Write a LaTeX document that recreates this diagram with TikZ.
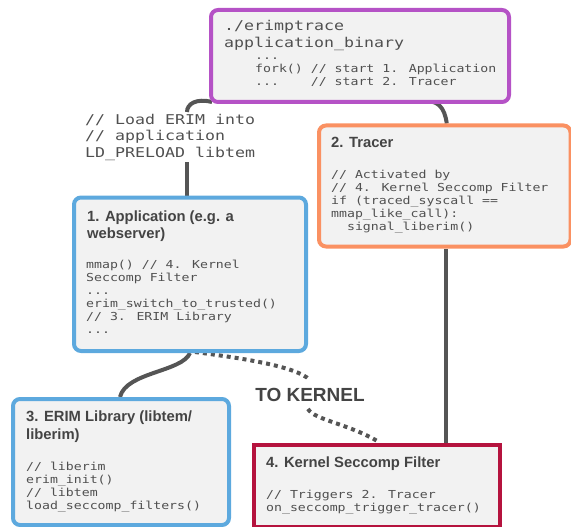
\documentclass[tikz,border=0pt]{standalone}
\usepackage{fontspec}
\setmainfont{Liberation Sans}
\newfontfamily\codefont{DejaVu Sans Mono}[FakeStretch=1.2]
\newfontfamily\bigcodefont{DejaVu Sans Mono}[FakeStretch=1.23]
\usetikzlibrary{calc,backgrounds}
\definecolor{boxfill}{HTML}{F2F2F2}
\definecolor{cpurple}{HTML}{B552C6}
\definecolor{corange}{HTML}{FA9162}
\definecolor{cblue}{HTML}{5DA9DE}
\definecolor{ccrimson}{HTML}{B5133E}
\definecolor{codegray}{HTML}{505050}
\definecolor{titlegray}{HTML}{444444}
\definecolor{conngray}{HTML}{555555}
\tikzset{
  roundbox/.style={draw=#1, fill=boxfill, line width=4pt, rounded corners=7pt, inner sep=0pt, anchor=north west},
  squarebox/.style={draw=#1, fill=boxfill, line width=4pt, inner sep=0pt, anchor=north west},
  code/.style={font=\codefont\fontsize{11}{13}\selectfont, text=codegray, align=left, inner sep=0pt, anchor=base west},
  bigcode/.style={font=\bigcodefont\fontsize{13.5}{17}\selectfont, text=codegray, align=left, inner sep=0pt, anchor=base west},
  ldcode/.style={font=\bigcodefont\fontsize{13.5}{16.5}\selectfont, text=codegray, align=left, inner sep=0pt, anchor=base west},
  title/.style={font=\bfseries\fontsize{14.8}{17.5}\selectfont, text=titlegray, align=left, inner sep=0pt, anchor=base west},
  conn/.style={draw=conngray, line width=4pt},
  dotconn/.style={draw=conngray, line width=4pt, dash pattern=on 4pt off 4pt},
}
\begin{document}
\begin{tikzpicture}[x=1pt,y=-1pt]
\useasboundingbox (0,0) rectangle (571,527);

% boxes
\node[roundbox=cpurple, minimum width=298pt, minimum height=92pt] (top) at (209,8) {};
\node[roundbox=corange, minimum width=251.5pt, minimum height=121pt] (tracer) at (317,123.5) {};
\node[roundbox=cblue, minimum width=232pt, minimum height=153.5pt] (app) at (72,195.5) {};
\node[roundbox=cblue, minimum width=216pt, minimum height=126pt] (erim) at (11,397) {};
\node[squarebox=ccrimson, minimum width=246.5pt, minimum height=82pt] (kernel) at (251.5,442.5) {};

% label between top and app (anchor = baseline of last line)
\node[ldcode] (ld) at (85,157.5) {// Load ERIM into\\// application\\LD\_PRELOAD libtem};
\coordinate (ldtop) at (187,112);
\coordinate (ldbot) at (187,162);

% top box text
\node[bigcode] (topbig) at (224,48) {./erimptrace\\application\_binary};
\node[code] (topsmall) at (255,86) {...\\fork() // start 1. Application\\...\ \ \ \ // start 2. Tracer};

% tracer text
\node[title] (tracertitle) at (331,147.5) {2. Tracer};
\node[code] (tracercode) at (331,230.5) {// Activated by\\// 4. Kernel Seccomp Filter\\if (traced\_syscall ==\\mmap\_like\_call):\\\phantom{..}signal\_liberim()};

% app text
\node[title] (apptitle) at (87,238.5) {1. Application (e.g. a\\webserver)};
\node[code] (appcode) at (86,333.5) {mmap() // 4. Kernel\\Seccomp Filter\\...\\erim\_switch\_to\_trusted()\\// 3. ERIM Library\\...};

% erim text
\node[title] (erimtitle) at (26,439) {3. ERIM Library (libtem/\\liberim)};
\node[code] (erimcode) at (26,509) {// liberim\\erim\_init()\\// libtem\\load\_seccomp\_filters()};

% kernel text
\node[title] (kerneltitle) at (266,467.5) {4. Kernel Seccomp Filter};
\node[code] (kernelcode) at (266,511) {// Triggers 2. Tracer\\on\_seccomp\_trigger\_tracer()};

% connector label
\node[inner sep=5pt, font=\bfseries\fontsize{19}{19}\selectfont, text=titlegray] (tok) at (310,395) {TO KERNEL};

% connectors behind everything
\begin{scope}[on background layer]
\draw[conn] ([xshift=3pt,yshift=2pt]top.south west) .. controls (196,98) and (187,104) .. (ldtop);
\draw[conn] (ldbot) -- (ldbot |- app.north);
\draw[conn] ([xshift=60pt,yshift=2pt]top.south) .. controls (438,98) and (444.75,108) .. ([xshift=2pt]tracer.north);
\draw[conn] ([xshift=1.25pt]tracer.south) -- ([xshift=1.25pt]tracer.south |- kernel.north);
\draw[conn] (app.south) .. controls (182,372) and (126,372) .. ([xshift=109pt]erim.north west);
\draw[dotconn] ([xshift=5pt,yshift=1pt]app.south) .. controls (240,358) and (296,366) .. ([yshift=3pt]tok.north);
\draw[dotconn] ([xshift=-2pt,yshift=-2pt]tok.south) .. controls (314,420) and (350,424) .. ([xshift=3pt]kernel.north);
\end{scope}
\end{tikzpicture}
\end{document}
